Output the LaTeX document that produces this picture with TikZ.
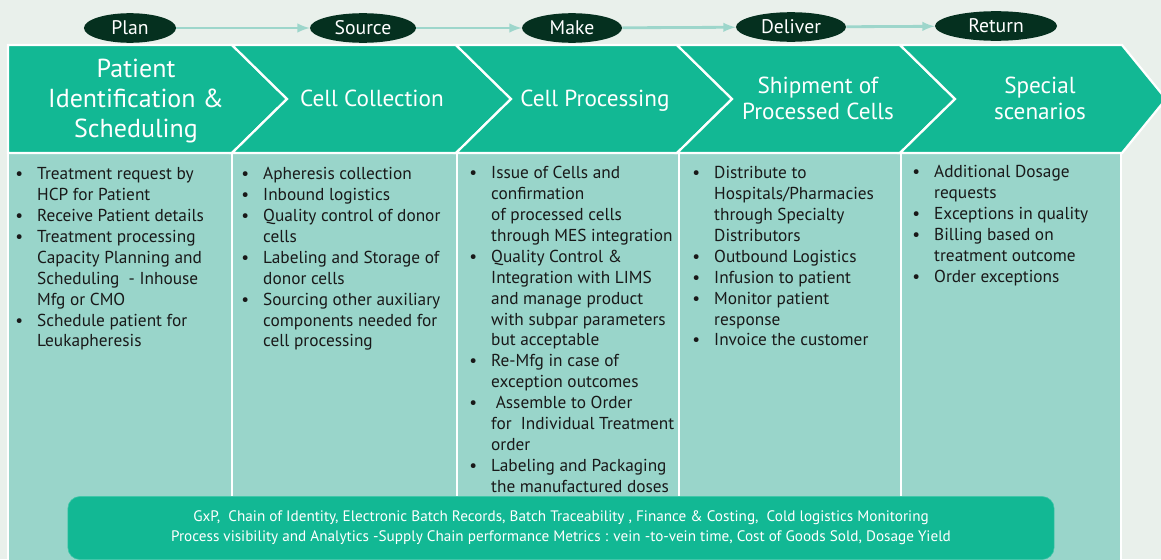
\documentclass[tikz,border=0pt]{standalone}
\usepackage{fontspec}
\setmainfont{PT Sans}
\usepackage{xcolor}
\usepackage{tikz}
\usetikzlibrary{shapes.geometric}
\usetikzlibrary{arrows}

\definecolor{backc}{HTML}{E9F0EB}
\definecolor{chevc}{HTML}{12B894}
\definecolor{panelc}{HTML}{99D5CA}
\definecolor{ovalc}{HTML}{05301F}
\definecolor{linkc}{HTML}{9DD6CB}

\newcommand{\bl}{\textbullet}

\begin{document}
\begin{tikzpicture}[x=0.025cm, y=-0.025cm,
    stage/.style={ellipse, fill=ovalc, text=white, inner sep=0pt,
        minimum height=0.74cm, font=\fontsize{14}{16}\selectfont},
    flow/.style={draw=linkc, line width=2pt, -latex},
    chevron/.style={fill=chevc, draw=white, line width=1.6pt, line join=miter},
    head/.style={text=white, align=center, inner sep=0pt},
    panel/.style={fill=panelc, draw=white, line width=0.8pt},
    items/.style={anchor=north west, inner sep=0pt, text=black!90,
        font=\fontsize{12.3}{14.85}\selectfont}]

    \useasboundingbox (0, 0) rectangle (1161, 559);
    \fill[backc] (0, 0) rectangle (1161, 559);

    % column panels
    \draw[panel] (8, 153) rectangle (232, 565);
    \draw[panel] (232, 153) rectangle (457, 565);
    \draw[panel] (457, 153) rectangle (679, 565);
    \draw[panel] (679, 153) rectangle (901, 565);
    \draw[panel] (901, 153) rectangle (1121, 565);

    % chevrons
    \draw[chevron] (8, 45) -- (232, 45) -- (287, 99) -- (232, 153) -- (8, 153) -- cycle;
    \draw[chevron] (232, 45) -- (456, 45) -- (511, 99) -- (456, 153) -- (232, 153) -- (287, 99) -- cycle;
    \draw[chevron] (456, 45) -- (677, 45) -- (732, 99) -- (677, 153) -- (456, 153) -- (511, 99) -- cycle;
    \draw[chevron] (677, 45) -- (900, 45) -- (955, 99) -- (900, 153) -- (677, 153) -- (732, 99) -- cycle;
    \draw[chevron] (900, 45) -- (1122, 45) -- (1166, 99) -- (1122, 153) -- (900, 153) -- (955, 99) -- cycle;

    \node[head, font=\fontsize{18.5}{21.5}\selectfont] (patient) at (136, 101)
        {Patient\\Identification \&\\Scheduling};
    \node[head, font=\fontsize{16.5}{19}\selectfont] (collect) at (372, 98) {Cell Collection};
    \node[head, font=\fontsize{16.5}{19}\selectfont] (process) at (595, 101) {Cell Processing};
    \node[head, font=\fontsize{16.5}{18.5}\selectfont] (shipment) at (818, 98)
        {Shipment of\\Processed Cells};
    \node[head, font=\fontsize{16.5}{18.5}\selectfont] (special) at (1040, 98)
        {Special\\scenarios};

    % SCOR stages
    \node[stage, minimum width=2.3cm] (plan) at (130, 28) {Plan};
    \node[stage, minimum width=2.65cm] (source) at (363, 28) {Source};
    \node[stage, minimum width=2.5cm] (make) at (572, 28) {Make};
    \node[stage, minimum width=2.75cm] (deliver) at (791, 27) {Deliver};
    \node[stage, minimum width=3.05cm] (return) at (996, 26) {Return};

    \draw[flow] (plan) -- (source);
    \draw[flow] (source) -- (make);
    \draw[flow] (make) -- (deliver);
    \draw[flow] (deliver) -- (return);

    % bullet lists
    \node[items] (planlist) at (15, 165) {\begin{tabular}{@{}p{15.6pt}@{}l@{}}
        \bl & Treatment request by\\
            & HCP for Patient\\
        \bl & Receive Patient details\\
        \bl & Treatment processing\\
            & Capacity Planning and\\
            & Scheduling~ - Inhouse\\
            & Mfg or CMO\\
        \bl & Schedule patient for\\
            & Leukapheresis
    \end{tabular}};
    \node[items] (sourcelist) at (241, 165) {\begin{tabular}{@{}p{15.6pt}@{}l@{}}
        \bl & Apheresis collection\\
        \bl & Inbound logistics\\
        \bl & Quality control of donor\\
            & cells\\
        \bl & Labeling and Storage of\\
            & donor cells\\
        \bl & Sourcing other auxiliary\\
            & components needed for\\
            & cell processing
    \end{tabular}};
    \node[items] (makelist) at (469, 164) {\begin{tabular}{@{}p{15.6pt}@{}l@{}}
        \bl & Issue of Cells and\\
            & confirmation\\
            & of processed cells\\
            & through MES integration\\
        \bl & Quality Control \&\\
            & Integration with LIMS\\
            & and manage product\\
            & with subpar parameters\\
            & but acceptable\\
        \bl & Re-Mfg in case of\\
            & exception outcomes\\
        \bl & \ Assemble to Order\\
            & for~ Individual Treatment\\
            & order\\
        \bl & Labeling and Packaging\\
            & the manufactured doses
    \end{tabular}};
    \node[items] (deliverlist) at (692, 164) {\begin{tabular}{@{}p{15.6pt}@{}l@{}}
        \bl & Distribute to\\
            & Hospitals/Pharmacies\\
            & through Specialty\\
            & Distributors\\
        \bl & Outbound Logistics\\
        \bl & Infusion to patient\\
        \bl & Monitor patient\\
            & response\\
        \bl & Invoice the customer
    \end{tabular}};
    \node[items] (returnlist) at (912, 163) {\begin{tabular}{@{}p{15.6pt}@{}l@{}}
        \bl & Additional Dosage\\
            & requests\\
        \bl & Exceptions in quality\\
        \bl & Billing based on\\
            & treatment outcome\\
        \bl & Order exceptions
    \end{tabular}};

    % common capabilities
    \node[fill=chevc, draw=chevc!80!white, rounded corners=0.3cm,
        minimum width=24.65cm, minimum height=1.575cm, text=white, align=center,
        font=\fontsize{10.8}{14}\selectfont] (common) at (561, 528)
        {GxP,\ \ Chain of Identity, Electronic Batch Records, Batch Traceability , Finance \& Costing,\ \ Cold logistics Monitoring\\
         Process visibility and Analytics -Supply Chain performance Metrics : vein -to-vein time, Cost of Goods Sold, Dosage Yield};
\end{tikzpicture}
\end{document}
